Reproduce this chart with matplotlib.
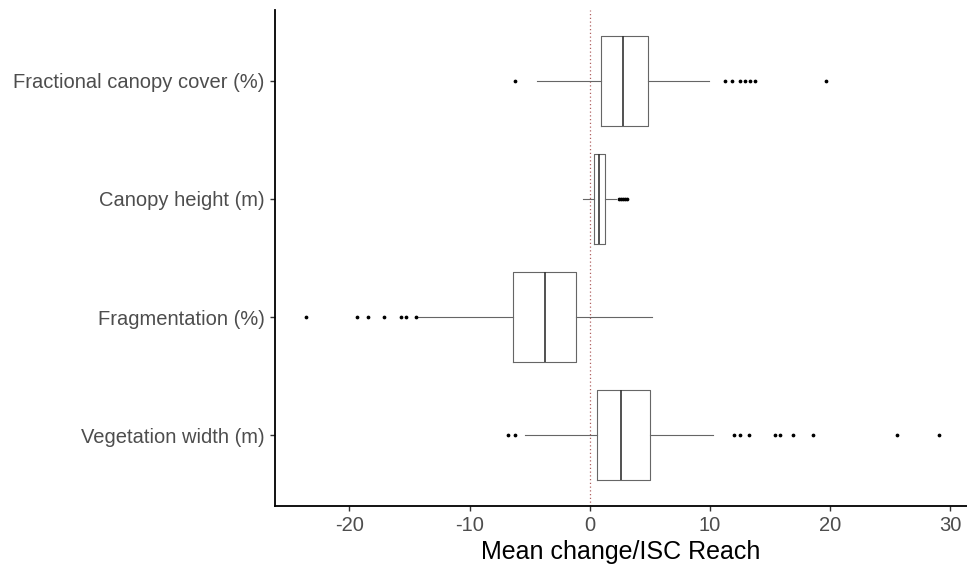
import matplotlib.pyplot as plt

plt.rcParams['font.family'] = ['Liberation Sans', 'DejaVu Sans']
plt.rcParams['axes.unicode_minus'] = False

# categories, bottom to top
labels = ['Vegetation width (m)', 'Fragmentation (%)',
          'Canopy height (m)', 'Fractional canopy cover (%)']

# box statistics
whislo = [-5.36, -14.3, -0.6, -4.39]
q1 = [0.64, -6.39, 0.35, 0.975]
med = [2.58, -3.69, 0.78, 2.78]
q3 = [5.0, -1.11, 1.25, 4.81]
whishi = [10.28, 5.14, 2.2, 9.94]
fliers = [
    [-6.81, -6.25, 12.03, 12.5, 13.25, 15.4, 15.8, 16.9, 18.6, 25.56, 29.08],
    [-23.6, -19.4, -18.5, -17.1, -15.7, -15.3, -14.5],
    [2.4, 2.6, 2.75, 2.9, 3.1],
    [-6.25, 11.25, 11.83, 12.5, 12.9, 13.3, 13.75, 19.7],
]

stats = []
for i in range(len(labels)):
    stats.append(dict(label=labels[i], whislo=whislo[i], q1=q1[i], med=med[i],
                      q3=q3[i], whishi=whishi[i], fliers=fliers[i]))

fig = plt.figure(figsize=(9.67, 5.72), dpi=100)
# axes spans x 275..967 px, y 10..506 px
ax = fig.add_axes([0.2844, 0.1154, 0.7156, 0.8671])

line_col = '#666666'
ax.axvline(0, color='#b06060', linestyle=(0, (1, 2)), lw=0.9, zorder=0)

ax.bxp(stats, positions=[1, 2, 3, 4], vert=False, widths=0.76,
       showcaps=False,
       boxprops=dict(color=line_col, lw=0.8),
       whiskerprops=dict(color=line_col, lw=0.8),
       medianprops=dict(color='#333333', lw=1.2),
       flierprops=dict(marker='o', markersize=1.7, markerfacecolor='black',
                       markeredgecolor='black'))

ax.set_xlim(-26.2, 31.4)
ax.set_ylim(0.4, 4.6)
ax.set_xticks([-20, -10, 0, 10, 20, 30])
ax.set_yticks([1, 2, 3, 4])
ax.set_yticklabels(labels)

for s in ['top', 'right']:
    ax.spines[s].set_visible(False)
for s in ['left', 'bottom']:
    ax.spines[s].set_linewidth(1.3)

ax.tick_params(axis='both', labelsize=14.5, labelcolor='#4d4d4d',
               color='#333333', length=3.5, width=1, pad=4)
ax.set_xlabel('Mean change/ISC Reach', fontsize=18, color='black', labelpad=3)

fig.savefig('out.png', dpi=100)
